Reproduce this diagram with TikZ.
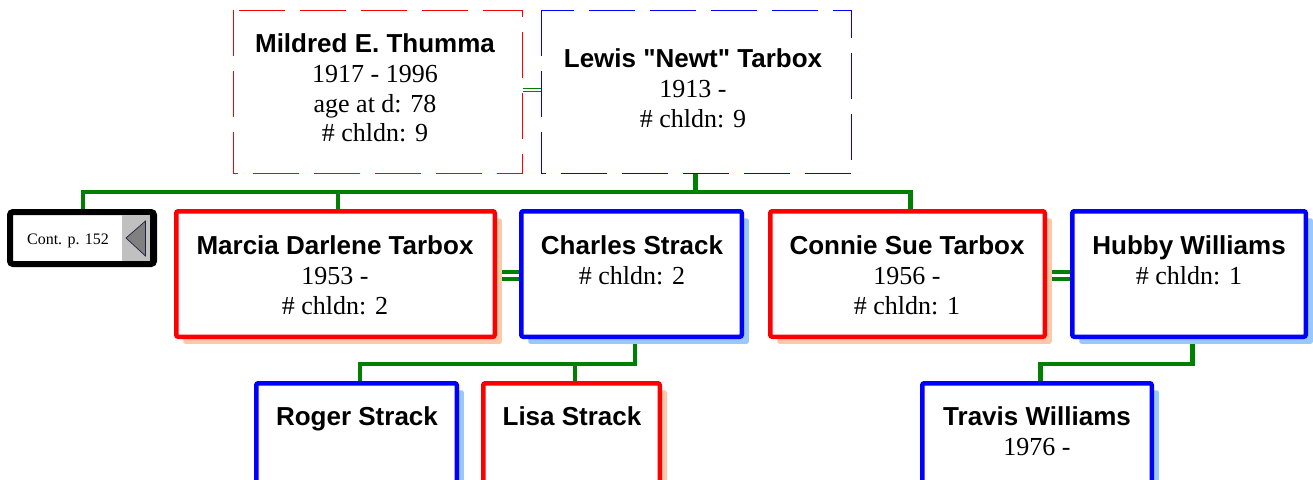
\documentclass[tikz,border=0pt]{standalone}
\usepackage{fontspec}
\setmainfont{Liberation Serif}
\newfontfamily\namefont{Liberation Sans}
\usetikzlibrary{shadows}
\definecolor{fred}{HTML}{FF0000}
\definecolor{mblue}{HTML}{0000FF}
\definecolor{lgreen}{HTML}{008000}
\definecolor{shred}{HTML}{FFC8A8}
\definecolor{shblue}{HTML}{99C8FF}
\definecolor{cgray}{HTML}{C0C0C0}
\definecolor{tgray}{HTML}{808080}
\definecolor{tnavy}{HTML}{202040}
\pgfdeclarelayer{bg}
\pgfsetlayers{bg,main}
\begin{document}
\begin{tikzpicture}[x=1pt,y=-1pt,
 box/.style={rectangle, inner sep=0pt, line width=4.5pt, rounded corners=2pt, fill=white},
 fbox/.style={box, draw=fred, general shadow={fill=shred, shadow xshift=7pt, shadow yshift=-7pt}},
 mbox/.style={box, draw=mblue, general shadow={fill=shblue, shadow xshift=7pt, shadow yshift=-7pt}},
 dbox/.style={rectangle, inner sep=0pt, fill=white},
 dline/.style={line width=1pt, dash pattern=on 46pt off 15pt},
 nm/.style={anchor=base, inner sep=0pt, font=\namefont\bfseries\fontsize{26}{30}\selectfont},
 tx/.style={anchor=base, inner sep=0pt, font=\fontsize{26}{30}\selectfont},
 bus/.style={draw=lgreen, line width=4.5pt},
 marr/.style={draw=lgreen, line width=3.5pt, double=white, double distance=3.3pt},
 marrthin/.style={draw=lgreen, line width=0.8pt, double=white, double distance=1.6pt},
]
\useasboundingbox (0,0) rectangle (1313,479);

% boxes
\node[dbox, minimum width=289pt, minimum height=163pt] (mil) at (378,92) {};
\node[dbox, minimum width=310pt, minimum height=163pt] (lew) at (696.5,92) {};
\draw[dline, color=fred] (mil.north west) rectangle (mil.south east);
\draw[dline, color=mblue] (lew.north west) rectangle (lew.south east);
\node[box, draw=black, line width=6pt, rounded corners=3pt, minimum width=144pt, minimum height=52pt] (cont) at (82,238) {};
\node[fbox, minimum width=318.5pt, minimum height=125.5pt] (mar) at (335.5,274) {};
\node[mbox, minimum width=220.5pt, minimum height=125.5pt] (cha) at (631.5,274) {};
\node[fbox, minimum width=274.5pt, minimum height=125.5pt] (con) at (907.5,274) {};
\node[mbox, minimum width=233.5pt, minimum height=125.5pt] (hub) at (1189,274) {};
\node[mbox, minimum width=200.5pt, minimum height=124.5pt] (rog) at (356.5,445.5) {};
\node[fbox, minimum width=176.5pt, minimum height=124.5pt] (lis) at (571.5,445.5) {};
\node[mbox, minimum width=229.5pt, minimum height=124.5pt] (tra) at (1037,445.5) {};

% continuation marker
\fill[cgray] (121.5,215) rectangle (150,261);
\draw[line width=0.8pt] (150.5,215) -- (150.5,261);
\draw[fill=tgray, draw=tnavy, line width=0.7pt] (126,238) -- (145.5,221) -- (145.5,256) -- cycle;
\node[anchor=base, inner sep=0pt, font=\fontsize{16}{19}\selectfont] (contT) at (68,244) {Cont. p. 152};

% texts
\node[nm] (mil1) at (375,52.5) {Mildred E. Thumma};
\node[tx] (mil2) at (375,82.5) {1917 - 1996};
\node[tx] (mil3) at (375,112) {age at d: 78};
\node[tx] (mil4) at (375,141.5) {\# chldn: 9};
\node[nm] (lew1) at (693,67) {Lewis "Newt" Tarbox};
\node[tx] (lew2) at (693,97) {1913 -};
\node[tx] (lew3) at (693,127) {\# chldn: 9};
\node[nm] (mar1) at (335,254.5) {Marcia Darlene Tarbox};
\node[tx] (mar2) at (335,284.5) {1953 -};
\node[tx] (mar3) at (335,314.5) {\# chldn: 2};
\node[nm] (cha1) at (632,254.5) {Charles Strack};
\node[tx] (cha2) at (632,284.5) {\# chldn: 2};
\node[nm] (con1) at (907,254.5) {Connie Sue Tarbox};
\node[tx] (con2) at (907,284.5) {1956 -};
\node[tx] (con3) at (907,314.5) {\# chldn: 1};
\node[nm] (hub1) at (1189,254.5) {Hubby Williams};
\node[tx] (hub2) at (1189,284.5) {\# chldn: 1};
\node[nm] (rog1) at (357,425) {Roger Strack};
\node[nm] (lis1) at (572,425) {Lisa Strack};
\node[nm] (tra1) at (1037,425) {Travis Williams};
\node[tx] (tra2) at (1037,455) {1976 -};

% connectors
\coordinate (busA) at (0,192);
\coordinate (busB) at (0,364);
\coordinate (contN) at ([xshift=1pt]cont.north);
\coordinate (marN) at ([xshift=2.5pt]mar.north);
\coordinate (conN) at ([xshift=3pt]con.north);
\coordinate (chaS) at ([xshift=3.5pt]cha.south);
\coordinate (rogN) at ([xshift=3.5pt]rog.north);
\coordinate (lisN) at ([xshift=3.5pt]lis.north);
\coordinate (hubS) at ([xshift=3.5pt]hub.south);
\coordinate (traN) at ([xshift=3.5pt]tra.north);
\begin{pgfonlayer}{bg}
\draw[marrthin] ([yshift=2pt]mil.east) -- ([yshift=2pt]lew.west);
\draw[bus] ([xshift=-1pt]lew.south) -- ([xshift=-1pt]lew.south |- busA);
\draw[bus] (contN) |- (conN |- busA) -- (conN);
\draw[bus] (marN) -- (marN |- busA);
\draw[marr] ([yshift=-1.5pt]mar.east) -- ([yshift=-1.5pt]cha.west);
\draw[marr] ([yshift=-1.5pt]con.east) -- ([yshift=-1.5pt]hub.west);
\draw[bus] (chaS) -- (chaS |- busB) -| (rogN);
\draw[bus] (lisN) -- (lisN |- busB);
\draw[bus] (hubS) -- (hubS |- busB) -| (traN);
\end{pgfonlayer}
\end{tikzpicture}
\end{document}
